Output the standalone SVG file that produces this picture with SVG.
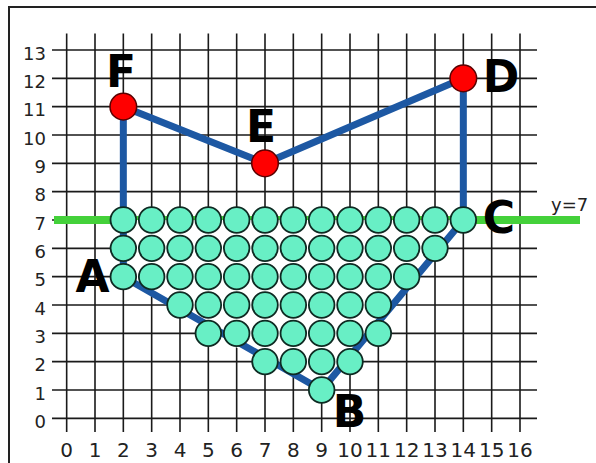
<svg xmlns="http://www.w3.org/2000/svg" width="596" height="463" viewBox="0 0 596 463">
<style>
.grid{stroke:#1a1a1a;stroke-width:1.6;fill:none}
.tick{font-family:"DejaVu Sans",sans-serif;fill:#222}
.ty{font-size:18px;text-anchor:end}
.tx{font-size:20px;text-anchor:middle}
.lbl{font-family:"DejaVu Sans",sans-serif;font-weight:bold;font-size:44px;fill:#000;text-anchor:middle}
.ball{fill:#68efc5;stroke:#0e2a22;stroke-width:1.8}
.pt{fill:#ff0000;stroke:#5a0000;stroke-width:1.5}
.edge{stroke:#1d58a3;stroke-width:7;fill:none;stroke-linejoin:round;stroke-linecap:round}
.green{stroke:#44d13a;stroke-width:8}
</style>
<rect x="0" y="0" width="596" height="463" fill="#fff"/>
<rect x="9" y="7" width="620" height="490" fill="none" stroke="#222" stroke-width="2"/>
<g id="grid">
<path class="grid" d="M66.67 33.5V432M95 33.5V432M123.33 33.5V432M151.67 33.5V432M180 33.5V432M208.33 33.5V432M236.67 33.5V432M265 33.5V432M293.33 33.5V432M321.67 33.5V432M350 33.5V432M378.33 33.5V432M406.67 33.5V432M435 33.5V432M463.33 33.5V432M491.67 33.5V432M520 33.5V432"/>
<path class="grid" d="M52 418.33H537M52 390H537M52 361.67H537M52 333.33H537M52 305H537M52 276.67H537M52 248.33H537M52 220H537M52 191.67H537M52 163.33H537M52 135H537M52 106.67H537M52 78.33H537M52 50H537"/>
<g class="tick ty">
<text x="46" y="428">0</text><text x="46" y="399.5">1</text><text x="46" y="371">2</text><text x="46" y="343">3</text><text x="46" y="314.5">4</text><text x="46" y="286">5</text><text x="46" y="258">6</text><text x="46" y="229.5">7</text><text x="46" y="201">8</text><text x="46" y="173">9</text><text x="46" y="144.5">10</text><text x="46" y="116">11</text><text x="46" y="88">12</text><text x="46" y="59.5">13</text>
</g>
<g class="tick tx">
<text x="66.67" y="457">0</text><text x="95" y="457">1</text><text x="123.33" y="457">2</text><text x="151.67" y="457">3</text><text x="180" y="457">4</text><text x="208.33" y="457">5</text><text x="236.67" y="457">6</text><text x="265" y="457">7</text><text x="293.33" y="457">8</text><text x="321.67" y="457">9</text><text x="350" y="457">10</text><text x="378.33" y="457">11</text><text x="406.67" y="457">12</text><text x="435" y="457">13</text><text x="463.33" y="457">14</text><text x="491.67" y="457">15</text><text x="520" y="457">16</text>
</g>
</g>
<g id="line-y7">
<line class="green" x1="54" y1="220" x2="580" y2="220"/>
<text class="tick" x="551" y="211" font-size="18">y=7</text>
</g>
<polygon fill="#fff" points="123.33,220 463.33,220 321.67,390 265,361.67 208.33,333.33 180,305 123.33,276.67"/>
<g id="connectors">
<polyline class="edge" points="123.33,276.67 321.67,390 463.33,220 463.33,78.33 265,163.33 123.33,106.67 123.33,276.67"/>
</g>
<g id="balls">
<circle class="ball" cx="123.33" cy="220" r="12.8"/><circle class="ball" cx="151.67" cy="220" r="12.8"/><circle class="ball" cx="180" cy="220" r="12.8"/><circle class="ball" cx="208.33" cy="220" r="12.8"/><circle class="ball" cx="236.67" cy="220" r="12.8"/><circle class="ball" cx="265" cy="220" r="12.8"/><circle class="ball" cx="293.33" cy="220" r="12.8"/><circle class="ball" cx="321.67" cy="220" r="12.8"/><circle class="ball" cx="350" cy="220" r="12.8"/><circle class="ball" cx="378.33" cy="220" r="12.8"/><circle class="ball" cx="406.67" cy="220" r="12.8"/><circle class="ball" cx="435" cy="220" r="12.8"/><circle class="ball" cx="463.33" cy="220" r="12.8"/>
<circle class="ball" cx="123.33" cy="248.33" r="12.8"/><circle class="ball" cx="151.67" cy="248.33" r="12.8"/><circle class="ball" cx="180" cy="248.33" r="12.8"/><circle class="ball" cx="208.33" cy="248.33" r="12.8"/><circle class="ball" cx="236.67" cy="248.33" r="12.8"/><circle class="ball" cx="265" cy="248.33" r="12.8"/><circle class="ball" cx="293.33" cy="248.33" r="12.8"/><circle class="ball" cx="321.67" cy="248.33" r="12.8"/><circle class="ball" cx="350" cy="248.33" r="12.8"/><circle class="ball" cx="378.33" cy="248.33" r="12.8"/><circle class="ball" cx="406.67" cy="248.33" r="12.8"/><circle class="ball" cx="435" cy="248.33" r="12.8"/>
<circle class="ball" cx="123.33" cy="276.67" r="12.8"/><circle class="ball" cx="151.67" cy="276.67" r="12.8"/><circle class="ball" cx="180" cy="276.67" r="12.8"/><circle class="ball" cx="208.33" cy="276.67" r="12.8"/><circle class="ball" cx="236.67" cy="276.67" r="12.8"/><circle class="ball" cx="265" cy="276.67" r="12.8"/><circle class="ball" cx="293.33" cy="276.67" r="12.8"/><circle class="ball" cx="321.67" cy="276.67" r="12.8"/><circle class="ball" cx="350" cy="276.67" r="12.8"/><circle class="ball" cx="378.33" cy="276.67" r="12.8"/><circle class="ball" cx="406.67" cy="276.67" r="12.8"/>
<circle class="ball" cx="180" cy="305" r="12.8"/><circle class="ball" cx="208.33" cy="305" r="12.8"/><circle class="ball" cx="236.67" cy="305" r="12.8"/><circle class="ball" cx="265" cy="305" r="12.8"/><circle class="ball" cx="293.33" cy="305" r="12.8"/><circle class="ball" cx="321.67" cy="305" r="12.8"/><circle class="ball" cx="350" cy="305" r="12.8"/><circle class="ball" cx="378.33" cy="305" r="12.8"/>
<circle class="ball" cx="208.33" cy="333.33" r="12.8"/><circle class="ball" cx="236.67" cy="333.33" r="12.8"/><circle class="ball" cx="265" cy="333.33" r="12.8"/><circle class="ball" cx="293.33" cy="333.33" r="12.8"/><circle class="ball" cx="321.67" cy="333.33" r="12.8"/><circle class="ball" cx="350" cy="333.33" r="12.8"/><circle class="ball" cx="378.33" cy="333.33" r="12.8"/>
<circle class="ball" cx="265" cy="361.67" r="12.8"/><circle class="ball" cx="293.33" cy="361.67" r="12.8"/><circle class="ball" cx="321.67" cy="361.67" r="12.8"/><circle class="ball" cx="350" cy="361.67" r="12.8"/>
<circle class="ball" cx="321.67" cy="390" r="12.8"/>
</g>
<g id="A"><text class="lbl" x="92.5" y="292">A</text></g>
<g id="B"><text class="lbl" x="349.5" y="427">B</text></g>
<g id="C"><text class="lbl" x="499" y="233">C</text></g>
<g id="D"><circle class="pt" cx="463.33" cy="78.33" r="13.3"/><text class="lbl" x="501" y="92">D</text></g>
<g id="E"><circle class="pt" cx="265" cy="163.33" r="13.3"/><text class="lbl" x="261" y="142">E</text></g>
<g id="F"><circle class="pt" cx="123.33" cy="106.67" r="13.3"/><text class="lbl" x="121" y="87">F</text></g>
</svg>
